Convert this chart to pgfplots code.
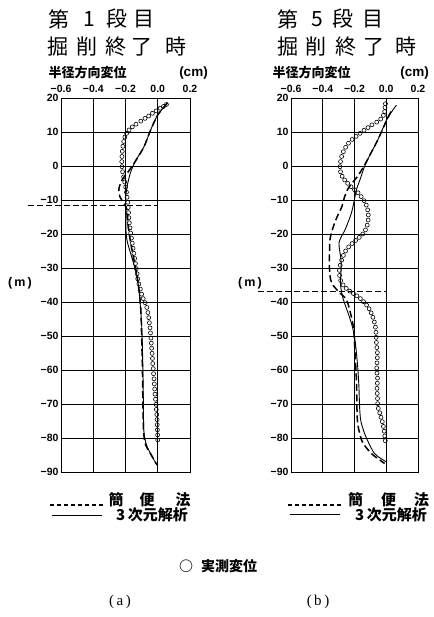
\documentclass[border=0pt]{standalone}
\usepackage{pgfplots}
\pgfplotsset{compat=1.18}
\usepackage{fontspec}
\setmainfont{Liberation Sans}
\newfontfamily\jp{Noto Sans CJK JP}
\newfontfamily\srf{Liberation Serif}
\newcommand\at[2]{(#1pt,{(617-#2)*1pt})}
\pgfplotsset{myax/.style={scale only axis, height=374pt,
  xmin=-0.6, xmax=0.2, ymin=-90, ymax=20,
  xtick={-0.6,-0.4,-0.2,0,0.2},
  xticklabels={−0.6,−0.4,−0.2,0.0,0.2},
  ytick={-90,-80,-70,-60,-50,-40,-30,-20,-10,0,10,20},
  yticklabels={−90,−80,−70,−60,−50,−40,−30,−20,−10,0,10,20},
  xticklabel pos=upper, grid=major,
  major grid style={black, line width=0.7pt},
  axis line style={line width=0.9pt},
  major tick length=0pt,
  tick label style={font=\fontsize{10.5}{12}\selectfont\bfseries},
  xticklabel style={yshift=2pt},
  yticklabel style={xshift=1pt},
  clip=false, anchor=south west},
  meas/.style={only marks, mark=o, mark size=2pt, mark options={line width=0.6pt, black}},
  simp/.style={black, line width=1.5pt, dash pattern=on 7pt off 3.5pt, smooth},
  threed/.style={black, line width=0.9pt, smooth},
  hline/.style={black, line width=0.9pt, dash pattern=on 6pt off 3pt}}
\begin{document}
\begin{tikzpicture}
\path[use as bounding box] (0,0) rectangle (433pt,617pt);
% ---------------- panel (a) ----------------
\begin{axis}[myax, width=129pt, at={(61pt,145pt)}]
\addplot[meas] coordinates {
(0.054,18.1) (0.035,17.5) (0.015,17.0) (-0.01,16.2) (-0.033,15.5) (-0.056,14.7)
(-0.079,14.0) (-0.105,13.2) (-0.135,12.3) (-0.158,11.5) (-0.178,10.6) (-0.193,9.6)
(-0.204,8.5) (-0.211,7.2) (-0.216,5.8) (-0.220,4.3) (-0.222,2.8) (-0.223,1.3)
(-0.222,-0.2) (-0.218,-1.7) (-0.212,-3.2) (-0.205,-4.7) (-0.199,-6.2) (-0.194,-7.7)
(-0.190,-9.2) (-0.186,-10.7) (-0.183,-12.2) (-0.181,-13.7) (-0.179,-15.2) (-0.176,-16.7)
(-0.172,-18.2) (-0.168,-19.7) (-0.163,-21.2) (-0.158,-22.7) (-0.153,-24.2) (-0.148,-25.7)
(-0.143,-27.2) (-0.138,-28.7) (-0.133,-30.2) (-0.128,-31.7) (-0.124,-33.2) (-0.117,-34.7)
(-0.108,-36.2) (-0.100,-37.7) (-0.090,-39.0) (-0.078,-40.2) (-0.068,-41.6) (-0.061,-43.1)
(-0.056,-44.6) (-0.052,-46.1) (-0.048,-47.6) (-0.045,-49.1) (-0.042,-50.6) (-0.040,-52.1)
(-0.038,-53.6) (-0.035,-55.1) (-0.033,-56.6) (-0.031,-58.1) (-0.028,-59.6) (-0.026,-61.1)
(-0.023,-62.6) (-0.021,-64.1) (-0.019,-65.6) (-0.017,-67.1) (-0.014,-68.6) (-0.011,-70.1)
(-0.009,-71.6) (-0.006,-73.1) (-0.004,-74.6) (-0.003,-76.1) (-0.002,-77.6) (-0.001,-79.1)
(0.000,-80.6)};
\addplot[threed] coordinates {
(0.06,18.5) (0.0,15) (-0.044,10.6) (-0.085,5.7) (-0.14,1.3) (-0.17,-2.1) (-0.19,-6)
(-0.2,-10) (-0.196,-14) (-0.198,-18) (-0.19,-22) (-0.16,-27) (-0.13,-32) (-0.118,-36)
(-0.11,-40) (-0.102,-45) (-0.097,-50) (-0.092,-60) (-0.089,-70) (-0.086,-78)
(-0.07,-82) (-0.04,-85) (-0.01,-87.5) (0,-88)};
\addplot[simp] coordinates {
(0.06,18.5) (0.0,15) (-0.044,10.6) (-0.085,5.7) (-0.14,1.3) (-0.18,-1.5) (-0.22,-4)
(-0.24,-6.5) (-0.235,-9) (-0.21,-11) (-0.19,-13) (-0.185,-17) (-0.17,-22) (-0.15,-27)
(-0.13,-32) (-0.115,-37) (-0.105,-42) (-0.1,-50) (-0.095,-60) (-0.092,-70) (-0.088,-78)
(-0.075,-82) (-0.04,-85) (-0.01,-87.5) (0,-88)};
\addplot[hline] coordinates {(-0.806,-11.5) (0,-11.5)};
\end{axis}
% ---------------- panel (b) ----------------
\begin{axis}[myax, width=127pt, at={(291pt,145pt)}]
\addplot[meas] coordinates {
(-0.005,18.3) (-0.008,17.2) (-0.010,16.0) (-0.018,14.9) (-0.035,13.8) (-0.060,12.9)
(-0.090,12.1) (-0.115,11.3) (-0.140,10.5) (-0.165,9.6) (-0.190,8.7) (-0.215,7.8)
(-0.238,6.7) (-0.256,5.5) (-0.270,4.2) (-0.281,2.8) (-0.288,1.3) (-0.291,-0.2)
(-0.288,-1.7) (-0.278,-3.0) (-0.262,-4.1) (-0.243,-5.1) (-0.222,-6.1) (-0.200,-7.0)
(-0.178,-7.9) (-0.158,-9.0) (-0.140,-10.2) (-0.126,-11.5) (-0.117,-12.9) (-0.113,-14.4)
(-0.114,-15.9) (-0.120,-17.4) (-0.131,-18.8) (-0.148,-20.0) (-0.170,-21.0) (-0.193,-21.9)
(-0.215,-22.8) (-0.237,-23.8) (-0.256,-25.0) (-0.270,-26.3) (-0.281,-27.7) (-0.290,-29.2)
(-0.295,-30.7) (-0.294,-32.2) (-0.287,-33.7) (-0.272,-35.0) (-0.252,-36.0) (-0.230,-36.8)
(-0.207,-37.5) (-0.185,-38.2) (-0.163,-39.0) (-0.143,-39.9) (-0.124,-40.9) (-0.108,-42.0)
(-0.095,-43.2) (-0.084,-44.5) (-0.075,-45.9) (-0.068,-47.4) (-0.065,-48.9) (-0.064,-50.4)
(-0.062,-51.9) (-0.059,-53.4) (-0.056,-54.9) (-0.056,-56.4) (-0.058,-57.9) (-0.060,-59.4)
(-0.058,-60.9) (-0.055,-62.4) (-0.056,-63.9) (-0.058,-65.4) (-0.057,-66.9) (-0.055,-68.4)
(-0.054,-69.9) (-0.050,-71.3) (-0.041,-72.6) (-0.033,-73.9) (-0.025,-75.2) (-0.018,-76.6)
(-0.013,-78.0) (-0.009,-79.4) (-0.006,-80.8)};
\addplot[threed] coordinates {
(0.064,17.9) (0.008,14.0) (-0.054,7.6) (-0.1,3.5) (-0.137,-0.2) (-0.165,-4) (-0.188,-7)
(-0.205,-11) (-0.22,-13.9) (-0.24,-16.5) (-0.26,-18.8) (-0.285,-21) (-0.298,-22.7)
(-0.293,-25) (-0.285,-27.6) (-0.285,-31) (-0.288,-35) (-0.272,-39) (-0.24,-43.3)
(-0.215,-47) (-0.2,-50.2) (-0.19,-54) (-0.18,-59) (-0.172,-65) (-0.168,-70.8)
(-0.16,-75) (-0.137,-78.6) (-0.11,-81.5) (-0.075,-84.5) (-0.035,-86) (0,-87)};
\addplot[simp] coordinates {
(0.03,16) (0.008,14) (-0.054,7.6) (-0.1,3.5) (-0.14,0) (-0.18,-3) (-0.215,-5)
(-0.24,-6.6) (-0.262,-9) (-0.28,-12) (-0.31,-15) (-0.333,-17.8) (-0.35,-20.5)
(-0.356,-22.7) (-0.358,-28.6) (-0.355,-32) (-0.343,-34.5) (-0.3,-37) (-0.25,-39.4)
(-0.22,-44.3) (-0.205,-48) (-0.2,-52) (-0.188,-62.9) (-0.182,-74.7) (-0.165,-79)
(-0.147,-81.5) (-0.095,-84.5) (-0.04,-86.5) (-0.01,-87.5)};
\addplot[hline] coordinates {(-0.806,-37) (0,-37)};
\end{axis}
% ---------------- titles ----------------
\begin{scope}[every node/.style={inner sep=0pt, font=\jp\fontsize{21}{21}\selectfont}]
\node at \at{58.5}{19} {第};
\node at \at{89}{19} {1};
\node at \at{117}{19} {段};
\node at \at{144}{19} {目};
\node at \at{58}{47} {掘};
\node at \at{87}{47} {削};
\node at \at{116}{47} {終};
\node at \at{142}{47} {了};
\node at \at{176}{47} {時};
\node at \at{287.5}{19} {第};
\node at \at{317}{19} {5};
\node at \at{342.5}{19} {段};
\node at \at{372.5}{19} {目};
\node at \at{287.5}{47} {掘};
\node at \at{316}{47} {削};
\node at \at{346}{47} {終};
\node at \at{374}{47} {了};
\node at \at{406}{47} {時};
\end{scope}
% subtitles
\node[inner sep=0pt, font=\jp\bfseries\fontsize{13}{13}\selectfont] at \at{87.5}{73} {半径方向変位};
\node[inner sep=0pt, font=\bfseries\fontsize{13.5}{13.5}\selectfont] at \at{193.5}{73} {(cm)};
\node[inner sep=0pt, font=\jp\bfseries\fontsize{13}{13}\selectfont] at \at{311.5}{73} {半径方向変位};
\node[inner sep=0pt, font=\bfseries\fontsize{13.5}{13.5}\selectfont] at \at{414.5}{73} {(cm)};
% (m)
\node[inner sep=0pt, font=\bfseries\fontsize{12.5}{12.5}\selectfont] at \at{20}{283} {(\,m\,)};
\node[inner sep=0pt, font=\bfseries\fontsize{12.5}{12.5}\selectfont] at \at{250}{283} {(\,m\,)};
% legends
\draw[black, line width=1.6pt, dash pattern=on 4pt off 3pt] \at{50}{505} -- \at{103}{505};
\draw[black, line width=0.9pt] \at{52}{515} -- \at{102}{515};
\draw[black, line width=1.6pt, dash pattern=on 4pt off 3pt] \at{288}{505} -- \at{342}{505};
\draw[black, line width=0.9pt] \at{290}{514} -- \at{340}{514};
\begin{scope}[every node/.style={inner sep=0pt, font=\jp\bfseries\fontsize{15}{15}\selectfont}]
\node at \at{116}{500} {簡};
\node at \at{147}{500} {便};
\node at \at{183}{500} {法};
\node at \at{152}{515} {3\,次元解析};
\node at \at{355.5}{500} {簡};
\node at \at{388.5}{500} {便};
\node at \at{421.5}{500} {法};
\node at \at{391}{515} {3\,次元解析};
\end{scope}
\node[inner sep=0pt, anchor=west, font=\jp\bfseries\fontsize{14}{14}\selectfont] at \at{179}{566} {○\hspace{8pt}実測変位};
\node[inner sep=0pt, font=\srf\fontsize{15}{15}\selectfont] at \at{120}{602} {(\,a\,)};
\node[inner sep=0pt, font=\srf\fontsize{15}{15}\selectfont] at \at{318}{602} {(\,b\,)};
\end{tikzpicture}
\end{document}
